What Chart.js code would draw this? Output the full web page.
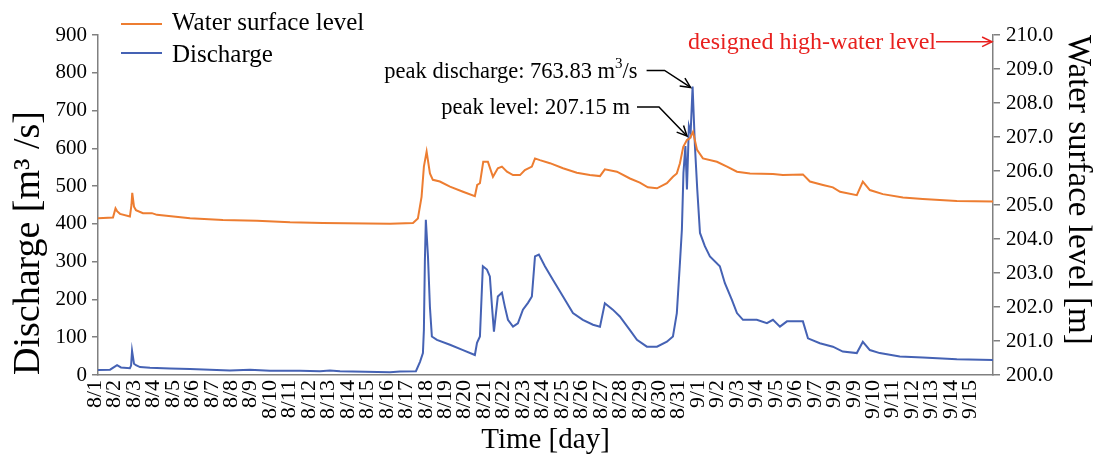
<!DOCTYPE html>
<html>
<head>
<meta charset="utf-8">
<script src="https://cdn.jsdelivr.net/npm/chart.js@4.4.0/dist/chart.umd.min.js"></script>
<style>
  html, body { margin: 0; padding: 0; background: #fff; }
  #wrap { width: 1097px; height: 459px; }
</style>
</head>
<body>
<div id="wrap"><canvas id="chart" width="1097" height="459"></canvas></div>
<script>
// x axis: days since 8/1 00:00
const dayLabels = ['8/1', '8/2', '8/3', '8/4', '8/5', '8/6', '8/7', '8/8', '8/9', '8/10',
    '8/11', '8/12', '8/13', '8/14', '8/15', '8/16', '8/17', '8/18', '8/19', '8/20',
    '8/21', '8/22', '8/23', '8/24', '8/25', '8/26', '8/27', '8/28', '8/29', '8/30', '8/31',
    '9/1', '9/2', '9/3', '9/4', '9/5', '9/6', '9/7', '9/9', '9/9', '9/10',
    '9/11', '9/12', '9/13', '9/14', '9/15'];

const dischargeDays = [0.00, 0.62, 0.98, 1.18, 1.64, 1.70, 1.75, 1.85, 1.95, 2.16, 2.67, 3.70, 4.73,
    6.78, 7.81, 8.84, 10.38, 11.41, 11.92, 12.44, 15.01, 15.52, 16.34, 16.55, 16.70, 16.75, 16.80,
    16.85, 16.96, 17.06, 17.16, 17.42, 18.09, 18.76, 19.37, 19.48, 19.63, 19.78, 19.99, 20.14, 20.25,
    20.35, 20.55, 20.76, 20.91, 21.07, 21.33, 21.58, 21.84, 22.10, 22.30, 22.46, 22.66, 22.97, 23.38,
    23.90, 24.41, 24.92, 25.44, 25.80, 26.05, 26.46, 26.82, 27.34, 27.70, 28.21, 28.73, 29.24, 29.55,
    29.75, 29.91, 30.01, 30.09, 30.19, 30.27, 30.37, 30.46, 30.56, 30.68, 30.80, 30.94, 31.19, 31.45,
    31.96, 32.22, 32.58, 32.84, 33.15, 33.86, 34.38, 34.69, 35.05, 35.41, 36.23, 36.49, 37.10, 37.77,
    38.28, 39.00, 39.31, 39.67, 40.18, 41.21, 42.39, 44.14, 46.00];
const dischargeValues = [13, 14, 26, 20, 18, 25, 64, 30, 26, 21, 19, 17, 16,
    12, 14, 11, 11, 10, 12, 10, 7, 9, 10, 35, 58, 120, 300,
    411, 313, 180, 102, 93, 80, 66, 53, 85, 102, 288, 279, 261, 181,
    115, 208, 218, 181, 146, 128, 137, 173, 191, 208, 314, 319, 288, 252,
    208, 164, 146, 133, 128, 190, 173, 155, 119, 93, 75, 75, 88, 102,
    164, 297, 385, 535, 606, 491, 659, 642, 763.83, 606, 491, 376, 341, 314,
    288, 243, 199, 164, 146, 146, 137, 146, 128, 142, 142, 97, 84, 75,
    62, 58, 88, 66, 58, 49, 46, 42, 40];

const levelDays = [0.00, 0.77, 0.90, 0.98, 1.13, 1.64, 1.72, 1.76, 1.85, 1.95, 2.31, 2.77, 3.03,
    4.73, 6.42, 8.17, 9.87, 11.56, 15.01, 16.19, 16.44, 16.63, 16.75, 16.89, 17.06, 17.21, 17.57,
    18.09, 18.76, 19.37, 19.49, 19.63, 19.80, 20.04, 20.30, 20.55, 20.76, 21.02, 21.33, 21.69, 21.94,
    22.30, 22.46, 22.71, 23.23, 23.90, 24.61, 25.28, 25.80, 26.05, 26.67, 27.34, 27.85, 28.26, 28.73,
    29.24, 29.55, 29.75, 29.91, 30.08, 30.27, 30.42, 30.58, 30.79, 31.09, 31.81, 32.33, 32.84, 33.51,
    34.69, 35.20, 36.23, 36.59, 37.26, 37.77, 38.14, 39.00, 39.31, 39.67, 40.34, 41.37, 42.39, 44.14, 46.00];
const levelValues = [204.61, 204.63, 204.90, 204.82, 204.74, 204.66, 205.00, 205.36, 204.95, 204.85, 204.76, 204.76, 204.71,
    204.61, 204.56, 204.54, 204.49, 204.47, 204.45, 204.47, 204.60, 205.24, 206.13, 206.57, 205.93, 205.74, 205.69,
    205.54, 205.39, 205.26, 205.59, 205.64, 206.27, 206.27, 205.83, 206.08, 206.13, 205.98, 205.88, 205.88, 206.03,
    206.13, 206.37, 206.32, 206.23, 206.08, 205.95, 205.88, 205.85, 206.05, 205.98, 205.78, 205.66, 205.52, 205.49,
    205.64, 205.83, 205.93, 206.23, 206.71, 206.91, 206.96, 207.15, 206.62, 206.37, 206.27, 206.13, 205.98, 205.93,
    205.91, 205.88, 205.90, 205.69, 205.59, 205.52, 205.39, 205.29, 205.69, 205.44, 205.32, 205.22, 205.18, 205.12, 205.10];

const peakDischargeDay = 30.56;
const peakDischarge = 763.83;
const peakLevelDay = 30.58;
const peakLevel = 207.15;
const designedLevel = 209.8;

const SERIF = "'Liberation Serif', 'Times New Roman', serif";
const ORANGE = '#ED7D31';
const BLUE = '#4562B4';
const AXIS = '#808080';

function toPoints(xs, ys) {
    return xs.map((x, i) => ({ x: x, y: ys[i] }));
}

function drawArrow(ctx, pts, color) {
    ctx.strokeStyle = color;
    ctx.lineWidth = 1.5;
    ctx.beginPath();
    ctx.moveTo(pts[0][0], pts[0][1]);
    for (let i = 1; i < pts.length; i++) ctx.lineTo(pts[i][0], pts[i][1]);
    ctx.stroke();
    const [tx, ty] = pts[pts.length - 1];
    const [px, py] = pts[pts.length - 2];
    const a = Math.atan2(ty - py, tx - px);
    const len = 11, spread = 0.45;
    ctx.beginPath();
    ctx.moveTo(tx - len * Math.cos(a - spread), ty - len * Math.sin(a - spread));
    ctx.lineTo(tx, ty);
    ctx.lineTo(tx - len * Math.cos(a + spread), ty - len * Math.sin(a + spread));
    ctx.stroke();
}

const overlay = {
    id: 'overlay',
    afterDraw(chart) {
        const ctx = chart.ctx;
        const xs = chart.scales.x, ys = chart.scales.y, ys2 = chart.scales.y2;
        ctx.save();

        // legend
        ctx.lineWidth = 2;
        ctx.strokeStyle = ORANGE;
        ctx.beginPath(); ctx.moveTo(121, 24); ctx.lineTo(162, 24); ctx.stroke();
        ctx.strokeStyle = BLUE;
        ctx.beginPath(); ctx.moveTo(121, 53); ctx.lineTo(162, 53); ctx.stroke();
        ctx.fillStyle = '#000';
        ctx.font = '25px ' + SERIF;
        ctx.textBaseline = 'alphabetic';
        ctx.textAlign = 'left';
        ctx.fillText('Water surface level', 172, 30);
        ctx.fillText('Discharge', 172, 62);

        // peak discharge
        const qx = xs.getPixelForValue(peakDischargeDay) - 2;
        const qy = ys.getPixelForValue(peakDischarge) + 1;
        const qBend = [qx - 26, qy - 17];
        const qStart = [qBend[0] - 18, qBend[1]];
        drawArrow(ctx, [qStart, qBend, [qx, qy]], '#000');
        const big = '22.5px ' + SERIF, small = '15px ' + SERIF;
        ctx.font = big;
        ctx.textBaseline = 'middle';
        const part1 = 'peak discharge: ' + peakDischarge.toFixed(2) + ' m';
        const part3 = '/s';
        const w1 = ctx.measureText(part1).width;
        const w3 = ctx.measureText(part3).width;
        ctx.font = small;
        const w2 = ctx.measureText('3').width;
        const tx = qStart[0] - 9 - (w1 + w2 + w3);
        const ty = qStart[1] + 2;
        ctx.font = big;
        ctx.fillText(part1, tx, ty);
        ctx.font = small;
        ctx.fillText('3', tx + w1, ty - 8);
        ctx.font = big;
        ctx.fillText(part3, tx + w1 + w2, ty);

        // peak level
        const hx = xs.getPixelForValue(peakLevelDay) - 6;
        const hy = ys2.getPixelForValue(peakLevel) + 4;
        const hBend = [hx - 28, hy - 29];
        const hStart = [hBend[0] - 22, hBend[1]];
        drawArrow(ctx, [hStart, hBend, [hx, hy]], '#000');
        ctx.textAlign = 'right';
        ctx.fillText('peak level: ' + peakLevel.toFixed(2) + ' m', hStart[0] - 7, hStart[1] + 1);

        // designed high-water level
        const dy = ys2.getPixelForValue(designedLevel);
        const dx = chart.chartArea.right - 1;
        drawArrow(ctx, [[dx - 56, dy], [dx, dy]], '#E8201E');
        ctx.fillStyle = '#E8201E';
        ctx.font = '24px ' + SERIF;
        ctx.fillText('designed high-water level', dx - 56, dy + 1);

        ctx.restore();
    }
};

const tickFont = { family: SERIF, size: 21 };

new Chart(document.getElementById('chart'), {
    type: 'line',
    data: {
        datasets: [{
            label: 'Water surface level',
            data: toPoints(levelDays, levelValues),
            borderColor: ORANGE,
            yAxisID: 'y2'
        }, {
            label: 'Discharge',
            data: toPoints(dischargeDays, dischargeValues),
            borderColor: BLUE,
            yAxisID: 'y'
        }]
    },
    options: {
        responsive: false,
        animation: false,
        layout: { padding: { top: 35, left: 0, right: 0, bottom: 0 } },
        elements: {
            point: { radius: 0 },
            line: { borderWidth: 2, tension: 0, fill: false }
        },
        plugins: {
            legend: { display: false },
            tooltip: { enabled: false }
        },
        scales: {
            x: {
                type: 'linear',
                min: 0,
                max: 46,
                ticks: {
                    stepSize: 1,
                    autoSkip: false,
                    minRotation: 90,
                    maxRotation: 90,
                    labelOffset: -3,
                    padding: 5,
                    color: '#000',
                    font: { family: SERIF, size: 22 },
                    callback: v => dayLabels[v] || ''
                },
                grid: { drawOnChartArea: false, drawTicks: false },
                border: { color: AXIS, width: 1.5 },
                title: { display: true, text: 'Time [day]', color: '#000', font: { family: SERIF, size: 29 }, padding: { top: 0, bottom: 1 } },
                afterFit: s => { s.height = 84; }
            },
            y: {
                position: 'left',
                min: 0,
                max: 900,
                ticks: { stepSize: 100, color: '#000', font: tickFont, padding: 5 },
                grid: { drawOnChartArea: false, tickLength: 6, color: AXIS, lineWidth: 1.5 },
                border: { color: AXIS, width: 1.5 },
                title: { display: true, text: 'Discharge [m³ /s]', align: 'start', color: '#000', font: { family: SERIF, size: 38 }, padding: { top: 6, bottom: 0 } },
                afterFit: s => { s.width = 98; }
            },
            y2: {
                position: 'right',
                min: 200,
                max: 210,
                ticks: { stepSize: 1, color: '#000', font: tickFont, padding: 6, callback: v => v.toFixed(1) },
                grid: { drawOnChartArea: false, tickLength: 7, color: AXIS, lineWidth: 1.5 },
                border: { color: AXIS, width: 1.5 },
                title: { display: true, text: 'Water surface level [m]', align: 'end', color: '#000', font: { family: SERIF, size: 33 }, padding: { top: 0, bottom: 0 } },
                afterFit: s => { s.width = 104; }
            }
        }
    },
    plugins: [overlay]
});
</script>
</body>
</html>
